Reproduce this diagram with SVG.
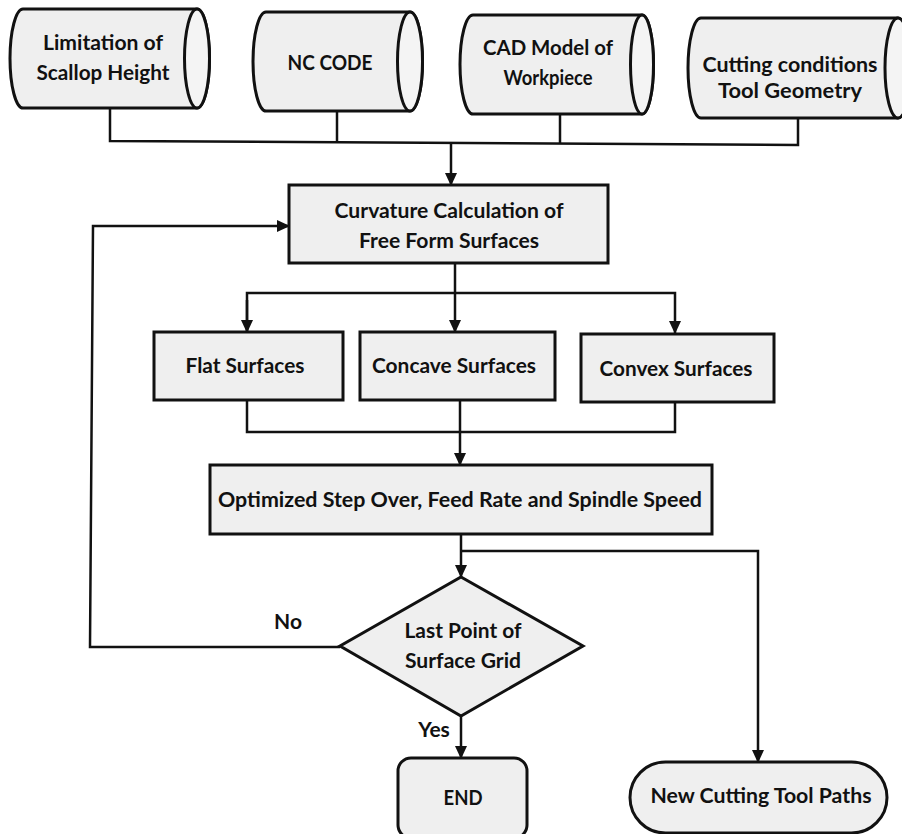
<svg xmlns="http://www.w3.org/2000/svg" width="902" height="834" viewBox="0 0 902 834">
<style>
.box{fill:#efefef;stroke:#111;stroke-width:3}
.cap{fill:#f4f4f4;stroke:#111;stroke-width:3}
.ln{fill:none;stroke:#111;stroke-width:2.5}
.t{font-family:Lato,"Open Sans","Liberation Sans",sans-serif;font-weight:bold;font-size:21px;fill:#111;text-anchor:middle}
</style>
<defs>
<marker id="ah" markerUnits="userSpaceOnUse" markerWidth="14" markerHeight="14" viewBox="0 0 14 14" refX="12" refY="7" orient="auto">
<path d="M0,1 L13,7 L0,13 Z" fill="#111"/>
</marker>
</defs>
<rect width="902" height="834" fill="#fff"/>

<g id="connectors">
<polyline class="ln" points="110,108 110,141 798,145 798,118"/>
<line class="ln" x1="337" y1="111" x2="337" y2="142"/>
<line class="ln" x1="560" y1="114" x2="560" y2="143"/>
<line class="ln" x1="451" y1="142" x2="451" y2="185" marker-end="url(#ah)"/>
<line class="ln" x1="455" y1="263" x2="455" y2="332" marker-end="url(#ah)"/>
<polyline class="ln" points="247,332 247,293 675,293 675,333" marker-end="url(#ah)"/>
<line class="ln" x1="247" y1="300" x2="247" y2="332" marker-end="url(#ah)"/>
<polyline class="ln" points="247,400 247,432 675,432 675,402"/>
<line class="ln" x1="460" y1="400" x2="460" y2="465" marker-end="url(#ah)"/>
<line class="ln" x1="461" y1="534" x2="461" y2="577" marker-end="url(#ah)"/>
<polyline class="ln" points="461,551 758,551 758,762" marker-end="url(#ah)"/>
<line class="ln" x1="461" y1="716" x2="461" y2="758" marker-end="url(#ah)"/>
<polyline class="ln" points="340,647 90,647 93,226 289,226" marker-end="url(#ah)"/>
<text class="t" x="288" y="629">No</text>
<text class="t" x="434" y="737">Yes</text>
</g>

<g id="scallop">
<path class="box" d="M23,9 L197,9 A12.5,49.5 0 0 1 197,108 L23,108 A13,49.5 0 0 1 23,9 Z"/>
<ellipse class="cap" cx="197" cy="58.5" rx="12.5" ry="49.5"/>
<text class="t" x="103" y="50" textLength="120" lengthAdjust="spacingAndGlyphs">Limitation of</text>
<text class="t" x="103" y="80" textLength="133" lengthAdjust="spacingAndGlyphs">Scallop Height</text>
</g>

<g id="nccode">
<path class="box" d="M266,12 L410,12 A12.5,49.5 0 0 1 410,111 L266,111 A13,49.5 0 0 1 266,12 Z"/>
<ellipse class="cap" cx="410" cy="61.5" rx="12.5" ry="49.5"/>
<text class="t" x="330" y="70" textLength="85" lengthAdjust="spacingAndGlyphs">NC CODE</text>
</g>

<g id="cad">
<path class="box" d="M473,15 L642,15 A11.5,49.5 0 0 1 642,114 L473,114 A13,49.5 0 0 1 473,15 Z"/>
<ellipse class="cap" cx="642" cy="64.5" rx="11.5" ry="49.5"/>
<text class="t" x="548" y="55" textLength="130" lengthAdjust="spacingAndGlyphs">CAD Model of</text>
<text class="t" x="548" y="85" textLength="89" lengthAdjust="spacingAndGlyphs">Workpiece</text>
</g>

<g id="cutting">
<path class="box" d="M701,18 L898,18 A13,50 0 0 1 898,118 L701,118 A13,50 0 0 1 701,18 Z"/>
<ellipse class="cap" cx="898" cy="68" rx="13" ry="50"/>
<text class="t" x="790" y="72" textLength="175" lengthAdjust="spacingAndGlyphs">Cutting conditions</text>
<text class="t" x="790" y="98" textLength="144" lengthAdjust="spacingAndGlyphs">Tool Geometry</text>
</g>

<g id="curvature">
<rect class="box" x="289" y="185" width="319" height="78"/>
<text class="t" x="449" y="218" textLength="229" lengthAdjust="spacingAndGlyphs">Curvature Calculation of</text>
<text class="t" x="449" y="248" textLength="180" lengthAdjust="spacingAndGlyphs">Free Form Surfaces</text>
</g>

<g id="flat">
<rect class="box" x="154" y="332" width="189" height="68"/>
<text class="t" x="245" y="373" textLength="119" lengthAdjust="spacingAndGlyphs">Flat Surfaces</text>
</g>

<g id="concave">
<rect class="box" x="360" y="332" width="195" height="68"/>
<text class="t" x="454" y="373" textLength="164" lengthAdjust="spacingAndGlyphs">Concave Surfaces</text>
</g>

<g id="convex">
<rect class="box" x="581" y="334" width="193" height="68"/>
<text class="t" x="676" y="376" textLength="153" lengthAdjust="spacingAndGlyphs">Convex Surfaces</text>
</g>

<g id="optimized">
<rect class="box" x="210" y="465" width="502" height="69"/>
<text class="t" x="460" y="507" textLength="484" lengthAdjust="spacingAndGlyphs">Optimized  Step Over, Feed Rate and Spindle Speed</text>
</g>

<g id="decision">
<polygon class="box" points="461,577 583,646 461,716 340,646"/>
<text class="t" x="463" y="638" textLength="117" lengthAdjust="spacingAndGlyphs">Last Point of</text>
<text class="t" x="463" y="668" textLength="116" lengthAdjust="spacingAndGlyphs">Surface Grid</text>
</g>

<g id="end">
<rect class="box" x="398" y="758" width="129" height="80" rx="13"/>
<text class="t" x="463" y="805" textLength="39" lengthAdjust="spacingAndGlyphs">END</text>
</g>

<g id="newpaths">
<rect class="box" x="630" y="762" width="257" height="71" rx="35.5"/>
<text class="t" x="761" y="803" textLength="221" lengthAdjust="spacingAndGlyphs">New Cutting Tool Paths</text>
</g>
</svg>
